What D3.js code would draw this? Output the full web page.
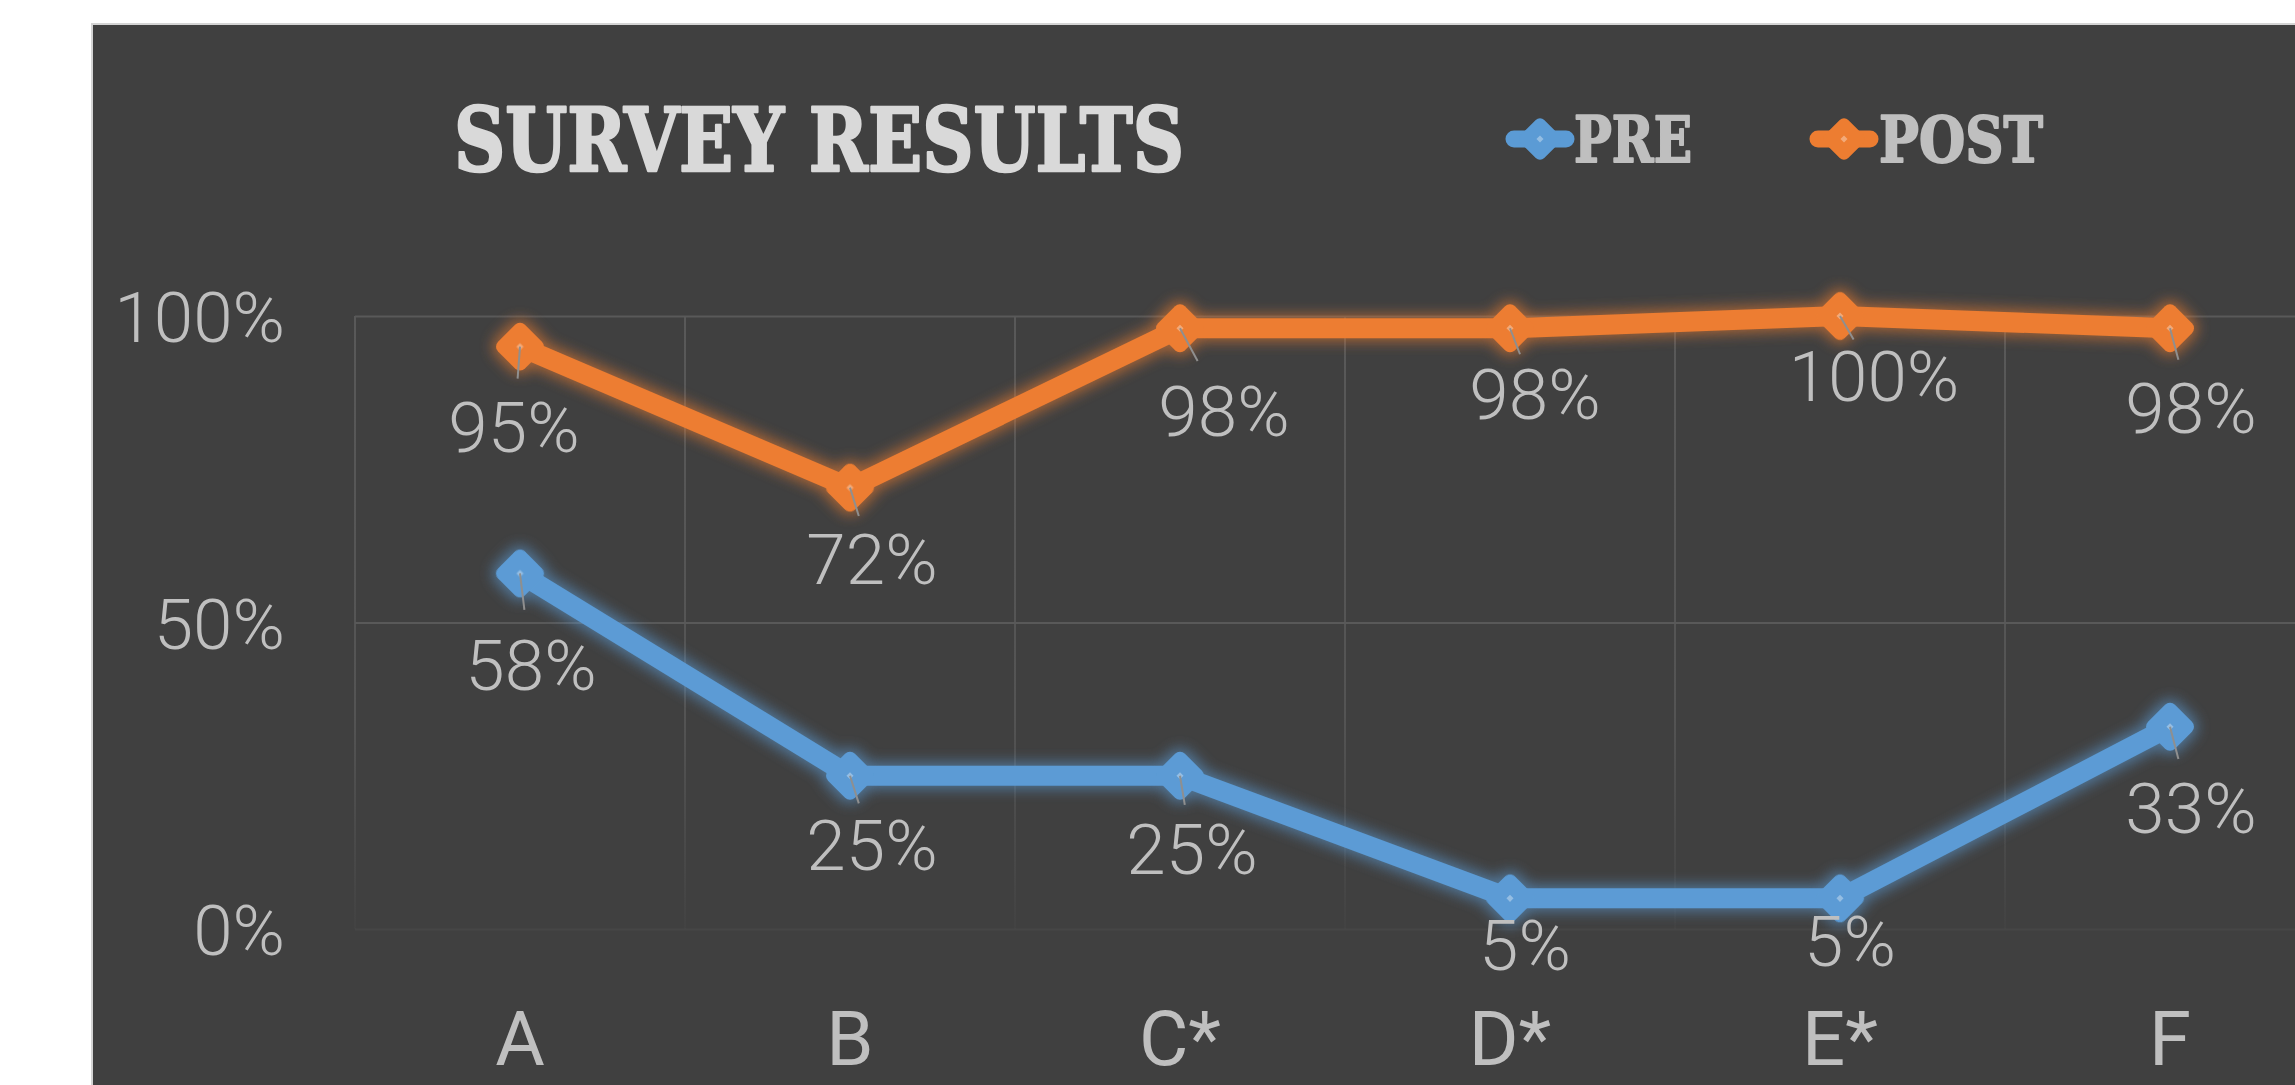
<!DOCTYPE html>
<html>
<head>
<meta charset="utf-8">
<script src="https://cdn.jsdelivr.net/npm/d3@7"></script>
<style>
  html, body { margin: 0; padding: 0; background: #ffffff; overflow: hidden; }
  svg { display: block; }
</style>
</head>
<body>
<svg id="chart" width="2295" height="1085"></svg>
<script>
// ---- data ----
const categories = ["A", "B", "C*", "D*", "E*", "F"];
const preValues  = [0.58, 0.25, 0.25, 0.05, 0.05, 0.33];
const postValues = [0.95, 0.72, 0.98, 0.98, 1.00, 0.98];
const yTicks = [0, 0.5, 1];
const seriesNames = ["PRE", "POST"];
const chartTitle = "SURVEY RESULTS";

// ---- layout (label offsets from the point, px) ----
const preLabelOffsets  = [[11, 91], [22, 69], [12, 73], [15, 46], [10, 42], [21, 81]];
const postLabelOffsets = [[-6, 80], [22, 71], [44, 82], [25, 65], [34, 59], [21, 79]];

const W = 2295, H = 1085;
const colors = { PRE: "#5b9bd5", POST: "#ed7d31" };
const textGrey = "#bfbfbf";
const gridColor = "#595959";

const svg = d3.select("#chart");
const defs = svg.append("defs");

// glow filters
Object.entries(colors).forEach(([k, c]) => {
  const f = defs.append("filter").attr("id", "glow" + k)
    .attr("filterUnits", "userSpaceOnUse")
    .attr("x", 0).attr("y", 0).attr("width", W).attr("height", H);
  f.append("feMorphology").attr("in", "SourceGraphic").attr("operator", "dilate").attr("radius", 3).attr("result", "d");
  f.append("feGaussianBlur").attr("in", "d").attr("stdDeviation", 7).attr("result", "b");
  const ct = f.append("feComponentTransfer").attr("in", "b").attr("result", "b2");
  ct.append("feFuncA").attr("type", "linear").attr("slope", 0.6);
  const m = f.append("feMerge");
  m.append("feMergeNode").attr("in", "b2");
  m.append("feMergeNode").attr("in", "SourceGraphic");
});

// scales
const plotLeft = 355, plotRight = 2335;
const x = d3.scaleBand().domain(categories).range([plotLeft, plotRight]).padding(0);
const cx = c => x(c) + x.bandwidth() / 2;
const y = d3.scaleLinear().domain([0, 1]).range([929, 316]);

// vertical grid fade gradient
const vg = defs.append("linearGradient").attr("id", "vfade")
  .attr("gradientUnits", "userSpaceOnUse")
  .attr("x1", 0).attr("x2", 0).attr("y1", y(1)).attr("y2", y(0));
vg.append("stop").attr("offset", "0%").attr("stop-color", gridColor).attr("stop-opacity", 1);
vg.append("stop").attr("offset", "65%").attr("stop-color", gridColor).attr("stop-opacity", 0.8);
vg.append("stop").attr("offset", "100%").attr("stop-color", gridColor).attr("stop-opacity", 0.1);

// panel
svg.append("rect").attr("x", 92).attr("y", 24).attr("width", W).attr("height", H)
  .attr("fill", "#404040").attr("stroke", "#d4d4d4").attr("stroke-width", 2);

// horizontal gridlines
const hgrid = svg.append("g").attr("transform", `translate(${plotLeft},0)`)
  .call(d3.axisLeft(y).tickValues(yTicks).tickSize(-(plotRight - plotLeft)).tickFormat(""));
hgrid.select(".domain").remove();
hgrid.selectAll(".tick line")
  .attr("stroke", d => d === 0 ? "#464646" : gridColor)
  .attr("stroke-width", 2);

// vertical gridlines at band edges
const edges = categories.map(c => x(c)).concat([plotRight]);
svg.append("g").selectAll("line").data(edges).join("line")
  .attr("x1", d => d).attr("x2", d => d)
  .attr("y1", y(1)).attr("y2", y(0))
  .attr("stroke", "url(#vfade)").attr("stroke-width", 2);

// y axis labels
const yAxis = svg.append("g").attr("transform", `translate(${plotLeft},0)`)
  .call(d3.axisLeft(y).tickValues(yTicks).tickFormat(d3.format(".0%")).tickSize(0).tickPadding(70));
yAxis.select(".domain").remove();
yAxis.selectAll("text")
  .attr("dy", "0.36em")
  .attr("fill", textGrey)
  .style("font-family", "Roboto, 'Open Sans', sans-serif")
  .style("font-weight", 300)
  .style("font-size", "71px");

// x axis labels
const xAxis = svg.append("g").attr("transform", `translate(0,${y(0)})`)
  .call(d3.axisBottom(x).tickSize(0));
xAxis.select(".domain").remove();
xAxis.selectAll("text")
  .attr("y", 1065 - y(0)).attr("dy", 0)
  .attr("fill", textGrey)
  .style("font-family", "Roboto, 'Open Sans', sans-serif")
  .style("font-weight", 400)
  .style("font-size", "76px");

// series
const series = [
  { name: seriesNames[0], values: preValues, offsets: preLabelOffsets },
  { name: seriesNames[1], values: postValues, offsets: postLabelOffsets }
];

const line = d3.line().x(d => cx(d.c)).y(d => y(d.v));
const diamondSide = 38;

series.forEach(s => {
  const pts = categories.map((c, i) => ({ c, v: s.values[i], off: s.offsets[i] }));
  const g = svg.append("g").attr("filter", `url(#glow${s.name})`);
  g.append("path").datum(pts)
    .attr("d", line)
    .attr("fill", "none")
    .attr("stroke", colors[s.name])
    .attr("stroke-width", 20)
    .attr("stroke-linejoin", "round")
    .attr("stroke-linecap", "round");
  g.selectAll("rect.mk").data(pts).join("rect").attr("class", "mk")
    .attr("x", -diamondSide / 2).attr("y", -diamondSide / 2)
    .attr("width", diamondSide).attr("height", diamondSide)
    .attr("rx", 7).attr("ry", 7)
    .attr("transform", d => `translate(${cx(d.c)},${y(d.v)}) rotate(45)`)
    .attr("fill", colors[s.name]);
  // center highlight
  svg.append("g").selectAll("rect").data(pts).join("rect")
    .attr("x", -2.5).attr("y", -2.5).attr("width", 5).attr("height", 5)
    .attr("transform", d => `translate(${cx(d.c)},${y(d.v)}) rotate(45)`)
    .attr("fill", "#ffffff").attr("opacity", 0.35);
  // leader lines
  svg.append("g").selectAll("line").data(pts.filter(d => Math.hypot(d.off[0], d.off[1]) > 55)).join("line")
    .attr("x1", d => cx(d.c)).attr("y1", d => y(d.v))
    .attr("x2", d => cx(d.c) + d.off[0] * 0.4)
    .attr("y2", d => y(d.v) + d.off[1] * 0.4)
    .attr("stroke", "#8f8f8f").attr("stroke-width", 2);
  // data labels
  svg.append("g").selectAll("text").data(pts).join("text")
    .attr("x", d => cx(d.c) + d.off[0])
    .attr("y", d => y(d.v) + d.off[1])
    .attr("dy", "0.36em")
    .attr("text-anchor", "middle")
    .attr("fill", textGrey)
    .style("font-family", "Roboto, 'Open Sans', sans-serif")
    .style("font-weight", 300)
    .style("font-size", "71px")
    .text(d => d3.format(".0%")(d.v));
});

// title
svg.append("text")
  .attr("x", 454).attr("y", 171)
  .attr("fill", "#d9d9d9")
  .attr("stroke", "#d9d9d9").attr("stroke-width", 2.5).attr("stroke-linejoin", "round")
  .style("font-family", "'DejaVu Serif', serif")
  .style("font-weight", 700)
  .style("font-size", "88px")
  .attr("textLength", 730).attr("lengthAdjust", "spacingAndGlyphs")
  .text(chartTitle);

// legend
const legendItems = [
  { name: seriesNames[0], mx: 1540, tx: 1574, tw: 118 },
  { name: seriesNames[1], mx: 1844, tx: 1879, tw: 164 }
];
const lg = svg.append("g");
legendItems.forEach(it => {
  lg.append("line")
    .attr("x1", it.mx - 26).attr("x2", it.mx + 26)
    .attr("y1", 139).attr("y2", 139)
    .attr("stroke", colors[it.name]).attr("stroke-width", 17).attr("stroke-linecap", "round");
  lg.append("rect")
    .attr("x", -16.5).attr("y", -16.5).attr("width", 33).attr("height", 33)
    .attr("rx", 6).attr("ry", 6)
    .attr("transform", `translate(${it.mx},139) rotate(45)`)
    .attr("fill", colors[it.name]);
  lg.append("rect")
    .attr("x", -2.5).attr("y", -2.5).attr("width", 5).attr("height", 5)
    .attr("transform", `translate(${it.mx},139) rotate(45)`)
    .attr("fill", "#ffffff").attr("opacity", 0.35);
  lg.append("text")
    .attr("x", it.tx).attr("y", 162)
    .attr("fill", textGrey)
    .attr("stroke", textGrey).attr("stroke-width", 2).attr("stroke-linejoin", "round")
    .style("font-family", "'DejaVu Serif', serif")
    .style("font-weight", 700)
    .style("font-size", "64px")
    .attr("textLength", it.tw).attr("lengthAdjust", "spacingAndGlyphs")
    .text(it.name);
});
</script>
</body>
</html>
